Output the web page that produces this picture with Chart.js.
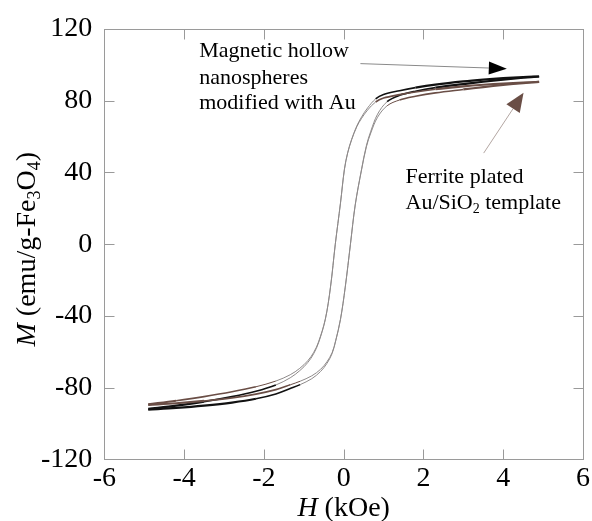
<!DOCTYPE html>
<html lang="en">
<head>
    <meta charset="utf-8" />
    <title>Hysteresis loops</title>
    <script src="https://cdn.jsdelivr.net/npm/chart.js"></script>
    <style>
        body {
            margin: 0;
            background: #fff;
        }

        .chart-box {
            width: 592px;
            height: 521px;
        }
    </style>
</head>
<body>
    <div class="chart-box">
        <canvas id="loopChart"></canvas>
    </div>
    <script>
        // H field (kOe) for the two branches of each loop
        const hDown = [4.9, 4.5, 4.0, 3.5, 3.0, 2.3, 1.8, 1.4, 1.0, 0.8, 0.6, 0.45, 0.33, 0.2, 0.1, 0.02, -0.08, -0.21, -0.33, -0.46, -0.63, -0.75, -0.9, -1.1, -1.34, -1.7, -2.2, -2.8, -3.5, -4.2, -4.9];
        const hUp = [-4.9, -4.2, -3.5, -2.8, -2.2, -1.7, -1.34, -1.09, -0.8, -0.58, -0.42, -0.29, -0.2, -0.08, 0.04, 0.17, 0.29, 0.45, 0.57, 0.68, 0.85, 1.09, 1.4, 1.8, 2.3, 3.0, 3.5, 4.0, 4.5, 4.9];

        // M (emu/g-Fe3O4) - magnetic hollow nanospheres modified with Au
        const mNanoDown = [93.5, 93.2, 92.6, 91.8, 90.8, 89, 87.3, 85.6, 83.5, 81, 76, 71, 66, 58.5, 51, 42, 23, 0, -24, -42, -55, -61, -66, -70.5, -74.5, -78.5, -82, -85, -87.8, -90, -91.8];
        const mNanoUp = [-92.3, -91.3, -90, -88.3, -86.2, -83.5, -80.5, -78.3, -75, -71, -66.5, -61, -54, -42, -24, 0, 22, 42, 55, 63, 72.5, 79.5, 83, 85.3, 87.3, 89.3, 90.6, 91.8, 92.8, 93.5];

        // M - ferrite plated Au/SiO2 template
        const mFerriteDown = [90.5, 90.1, 89.6, 88.9, 88, 86.4, 84.9, 83.4, 81.5, 79.3, 74.8, 70.2, 65.5, 58.2, 50.8, 41.8, 22.8, 0, -23.8, -41.7, -54.5, -60.3, -65, -69.2, -72.8, -76.3, -79.5, -82.3, -85, -87.3, -89.3];
        const mFerriteUp = [-89.6, -88.7, -87.4, -85.7, -83.6, -81.1, -78.4, -76.4, -73.4, -69.8, -65.6, -60.5, -53.7, -41.8, -23.8, 0, 21.8, 41.6, 54.3, 62, 70.8, 77.2, 80.4, 82.5, 84.4, 86.3, 87.6, 88.8, 89.8, 90.5];

        const xTickValues = [-6, -4, -2, 0, 2, 4, 6];
        const yTickValues = [-120, -80, -40, 0, 40, 80, 120];

        // annotation text anchors and arrows, in data units (H, M)
        const nanoLabel = ['Magnetic hollow', 'nanospheres', 'modified with Au'];
        const nanoLabelPos = [[-3.62, 104.5], [-3.62, 89.6], [-3.62, 75.2]];
        const nanoArrow = [[0.42, 100.7], [4.09, 97.9]];
        const ferriteLabelPos = [[1.55, 34.2], [1.55, 19.4]];
        const ferriteArrow = [[3.51, 50.8], [4.51, 84.4]];

        const SERIF = "'Liberation Serif', 'Times New Roman', serif";
        const BLACK = '#111111';
        const BROWN = '#6a4e46';

        function toPoints(hs, ms) {
            return hs.map((h, i) => ({ x: h, y: ms[i] }));
        }

        // thicker coloured line near saturation, thin grey line through the steep part
        function loopStyle(main) {
            return {
                borderColor: ctx => {
                    const a = Math.min(Math.abs(ctx.p0.parsed.y), Math.abs(ctx.p1.parsed.y));
                    return a > 76 ? main : '#8e8a8a';
                },
                borderWidth: ctx => {
                    const a = Math.min(Math.abs(ctx.p0.parsed.y), Math.abs(ctx.p1.parsed.y));
                    return a > 86 ? 2.2 : a > 78 ? 1.6 : 1;
                }
            };
        }

        function loopDataset(hs, ms, main) {
            return {
                data: toPoints(hs, ms),
                showLine: true,
                pointRadius: 0,
                tension: 0.35,
                borderColor: main,
                borderWidth: 1,
                segment: loopStyle(main)
            };
        }

        function drawArrow(ctx, x0, y0, x1, y1, lineColor, headColor, len, half) {
            const ang = Math.atan2(y1 - y0, x1 - x0);
            const bx = x1 - len * Math.cos(ang);
            const by = y1 - len * Math.sin(ang);
            ctx.strokeStyle = lineColor;
            ctx.lineWidth = 1;
            ctx.beginPath();
            ctx.moveTo(x0, y0);
            ctx.lineTo(bx, by);
            ctx.stroke();
            ctx.fillStyle = headColor;
            ctx.beginPath();
            ctx.moveTo(x1, y1);
            ctx.lineTo(bx + half * Math.sin(ang), by - half * Math.cos(ang));
            ctx.lineTo(bx - half * Math.sin(ang), by + half * Math.cos(ang));
            ctx.closePath();
            ctx.fill();
        }

        // draw text pieces in a row: [text, font, dy]
        function drawPieces(ctx, pieces, x, y) {
            let cx = x;
            pieces.forEach(p => {
                ctx.font = p[1];
                ctx.fillText(p[0], cx, y + p[2]);
                cx += ctx.measureText(p[0]).width;
            });
        }

        function piecesWidth(ctx, pieces) {
            let w = 0;
            pieces.forEach(p => {
                ctx.font = p[1];
                w += ctx.measureText(p[0]).width;
            });
            return w;
        }

        const framePlugin = {
            id: 'frame',
            afterDraw(chart) {
                const { ctx, chartArea: a, scales: { x, y } } = chart;
                ctx.save();

                // box and inward ticks
                ctx.strokeStyle = '#9a9a9a';
                ctx.lineWidth = 1;
                const L = Math.round(a.left) + 0.5, R = Math.round(a.right) + 0.5;
                const T = Math.round(a.top) + 0.5, B = Math.round(a.bottom) + 0.5;
                ctx.strokeRect(L, T, R - L, B - T);
                ctx.beginPath();
                xTickValues.forEach(v => {
                    const px = Math.round(x.getPixelForValue(v)) + 0.5;
                    ctx.moveTo(px, B); ctx.lineTo(px, B - 10);
                    ctx.moveTo(px, T); ctx.lineTo(px, T + 10);
                });
                yTickValues.forEach(v => {
                    const py = Math.round(y.getPixelForValue(v)) + 0.5;
                    ctx.moveTo(L, py); ctx.lineTo(L + 10, py);
                    ctx.moveTo(R, py); ctx.lineTo(R - 10, py);
                });
                ctx.stroke();

                // arrows
                drawArrow(ctx,
                    x.getPixelForValue(nanoArrow[0][0]), y.getPixelForValue(nanoArrow[0][1]),
                    x.getPixelForValue(nanoArrow[1][0]), y.getPixelForValue(nanoArrow[1][1]),
                    '#8a8a8a', '#000', 18, 6.5);
                drawArrow(ctx,
                    x.getPixelForValue(ferriteArrow[0][0]), y.getPixelForValue(ferriteArrow[0][1]),
                    x.getPixelForValue(ferriteArrow[1][0]), y.getPixelForValue(ferriteArrow[1][1]),
                    '#b3a6a2', BROWN, 19, 8);

                // annotation text
                ctx.fillStyle = '#000';
                ctx.textAlign = 'left';
                ctx.textBaseline = 'alphabetic';
                const f22 = '22px ' + SERIF;
                const f14 = '14px ' + SERIF;
                ctx.font = f22;
                nanoLabel.forEach((t, i) => {
                    ctx.fillText(t, x.getPixelForValue(nanoLabelPos[i][0]), y.getPixelForValue(nanoLabelPos[i][1]));
                });
                drawPieces(ctx, [['Ferrite plated', f22, 0]],
                    x.getPixelForValue(ferriteLabelPos[0][0]), y.getPixelForValue(ferriteLabelPos[0][1]));
                drawPieces(ctx, [['Au/SiO', f22, 0], ['2', f14, 4], [' template', f22, 0]],
                    x.getPixelForValue(ferriteLabelPos[1][0]), y.getPixelForValue(ferriteLabelPos[1][1]));

                // axis titles
                const f28 = '28px ' + SERIF;
                const i28 = 'italic 28px ' + SERIF;
                const f18 = '18px ' + SERIF;
                ctx.textBaseline = 'alphabetic';
                const xt = [['H', i28, 0], [' (kOe)', f28, 0]];
                const xw = piecesWidth(ctx, xt);
                drawPieces(ctx, xt, (a.left + a.right) / 2 - xw / 2, chart.height - 5);

                const yt = [['M', i28, 0], [' (emu/g-Fe', f28, 0], ['3', f18, 5], ['O', f28, 0], ['4', f18, 5], [')', f28, 0]];
                const yw = piecesWidth(ctx, yt);
                ctx.translate(35, (a.top + a.bottom) / 2 + 5);
                ctx.rotate(-Math.PI / 2);
                drawPieces(ctx, yt, -yw / 2, 0);

                ctx.restore();
            }
        };

        const tickFont = { family: SERIF, size: 28 };

        new Chart(document.getElementById('loopChart'), {
            type: 'scatter',
            data: {
                datasets: [
                    loopDataset(hDown, mFerriteDown, BROWN),
                    loopDataset(hUp, mFerriteUp, BROWN),
                    loopDataset(hDown, mNanoDown, BLACK),
                    loopDataset(hUp, mNanoUp, BLACK)
                ]
            },
            options: {
                responsive: true,
                maintainAspectRatio: false,
                animation: false,
                layout: {
                    padding: { left: 29, right: 9, top: 29, bottom: 24 }
                },
                plugins: {
                    legend: { display: false },
                    tooltip: { enabled: false }
                },
                scales: {
                    x: {
                        type: 'linear',
                        min: -6,
                        max: 6,
                        afterBuildTicks: s => { s.ticks = xTickValues.map(v => ({ value: v })); },
                        grid: { display: false, drawTicks: false },
                        border: { display: false },
                        ticks: { color: '#000', font: tickFont, padding: 2, maxRotation: 0 }
                    },
                    y: {
                        type: 'linear',
                        min: -120,
                        max: 120,
                        afterBuildTicks: s => { s.ticks = yTickValues.map(v => ({ value: v })); },
                        grid: { display: false, drawTicks: false },
                        border: { display: false },
                        ticks: { color: '#000', font: tickFont, padding: 12 }
                    }
                }
            },
            plugins: [framePlugin]
        });
    </script>
</body>
</html>
